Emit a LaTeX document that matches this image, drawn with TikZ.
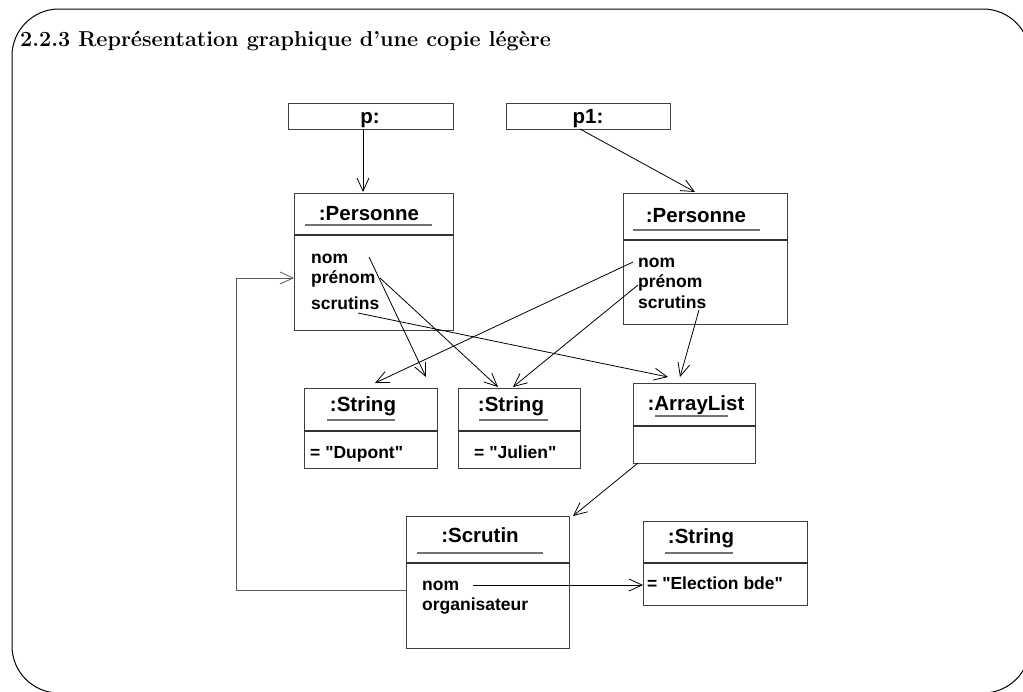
\documentclass[tikz,border=0pt]{standalone}
\usepackage{fontspec}
\newfontfamily\hv{Liberation Sans}
\usetikzlibrary{arrows.meta}
\begin{document}
\begin{tikzpicture}[x=1pt,y=-1pt,
  box/.style={draw=black!75, line width=1.1pt, rectangle, inner sep=0pt, anchor=north west},
  divider/.style={draw=black!80, line width=1.1pt},
  uline/.style={draw=black!55, line width=1.2pt},
  ttl/.style={font=\hv\bfseries\fontsize{20.5}{22}\selectfont, inner sep=0pt, anchor=base},
  attr/.style={font=\hv\bfseries\fontsize{17.5}{19}\selectfont, inner sep=0pt, anchor=base west},
  conn/.style={draw=black, line width=0.8pt, -{Straight Barb[length=13pt,width=12pt,line width=0.8pt]}},
  frame/.style={draw=black, line width=1pt, rounded corners=47pt}
]
\useasboundingbox (0,0) rectangle (1023,691);
% frame
\draw[frame] (12,9) rectangle (1030,693);
% title
\node[font=\bfseries\fontsize{21.6}{25}\selectfont, inner sep=0pt, anchor=base west] (title) at (20,46)
  {2.2.3 Représentation graphique d’une copie légère};

% variable boxes
\node[box, minimum width=165pt, minimum height=26pt] (pbox) at (288,103) {};
\node[ttl] (ptxt) at (370,123) {p:};
\node[box, minimum width=164pt, minimum height=26pt] (p1box) at (506,103) {};
\node[ttl] (p1txt) at (588,123) {p1:};

% Personne 1
\node[box, minimum width=159pt, minimum height=137pt] (pers1) at (294,193) {};
\draw[divider] (pers1.west |- 0,235) -- (pers1.east |- 0,235);
\node[ttl] (pers1t) at (369,220) {:Personne};
\draw[uline] (305,225) -- (432,225);
\node[attr] (pers1nom) at (311,263) {nom};
\node[attr] (pers1pre) at (311,283) {prénom};
\node[attr] (pers1scr) at (311,309) {scrutins};

% Personne 2
\node[box, minimum width=164pt, minimum height=131pt] (pers2) at (623,193) {};
\draw[divider] (pers2.west |- 0,240) -- (pers2.east |- 0,240);
\node[ttl] (pers2t) at (696,222) {:Personne};
\draw[uline] (633,230) -- (760,230);
\node[attr] (pers2nom) at (638,267) {nom};
\node[attr] (pers2pre) at (638,287) {prénom};
\node[attr] (pers2scr) at (638,308) {scrutins};

% String 1
\node[box, minimum width=133pt, minimum height=80pt] (str1) at (304,388) {};
\draw[divider] (str1.west |- 0,431) -- (str1.east |- 0,431);
\node[ttl] (str1t) at (363,411) {:String};
\draw[uline] (327,420) -- (395,420);
\node[attr] (str1v) at (310,458) {= "Dupont"};

% String 2
\node[box, minimum width=122pt, minimum height=80pt] (str2) at (458,388) {};
\draw[divider] (str2.west |- 0,431) -- (str2.east |- 0,431);
\node[ttl] (str2t) at (511,411) {:String};
\draw[uline] (479,420) -- (548,420);
\node[attr] (str2v) at (474,458) {= "Julien"};

% ArrayList
\node[box, minimum width=122pt, minimum height=80pt] (arr) at (633,383) {};
\draw[divider] (arr.west |- 0,426) -- (arr.east |- 0,426);
\node[ttl] (arrt) at (696,410) {:ArrayList};
\draw[uline] (655,416) -- (728,416);

% Scrutin
\node[box, minimum width=163pt, minimum height=132pt] (scr) at (406,516) {};
\draw[divider] (scr.west |- 0,563) -- (scr.east |- 0,563);
\node[ttl] (scrt) at (480,542) {:Scrutin};
\draw[uline] (417,553) -- (543,553);
\node[attr] (scrnom) at (422,590) {nom};
\node[attr] (scrorg) at (422,610) {organisateur};

% String 3
\node[box, minimum width=164pt, minimum height=84pt] (str3) at (643,521) {};
\draw[divider] (str3.west |- 0,563) -- (str3.east |- 0,563);
\node[ttl] (str3t) at (701,543) {:String};
\draw[uline] (665,553) -- (733,553);
\node[attr] (str3v) at (647,589) {= "Election bde"};

% connector end points
\coordinate (pA) at (363,129);   \coordinate (pB) at (363,192);
\coordinate (p1A) at (580,129);  \coordinate (p1B) at (695,192);
\coordinate (n1A) at (369,257);  \coordinate (n1B) at (426,377);
\coordinate (r1A) at (380,278);  \coordinate (r1B) at (498,387);
\coordinate (s1A) at (358,313);  \coordinate (s1B) at (668,377);
\coordinate (n2A) at (633,262);  \coordinate (n2B) at (375,383);
\coordinate (r2A) at (638,285);  \coordinate (r2B) at (513,387);
\coordinate (s2A) at (699,310);  \coordinate (s2B) at (680,377);
\coordinate (aA) at (638,463);   \coordinate (aB) at (573,516);
\coordinate (sn) at (473,585);   \coordinate (snB) at (643,585);
\coordinate (bk1) at (236,590);  \coordinate (bk2) at (236,278);
\coordinate (bkB) at (294,278);

\draw[conn] (pA) -- (pB);
\draw[conn] (p1A) -- (p1B);
\draw[conn] (n1A) -- (n1B);
\draw[conn] (r1A) -- (r1B);
\draw[conn] (s1A) -- (s1B);
\draw[conn] (n2A) -- (n2B);
\draw[conn] (r2A) -- (r2B);
\draw[conn] (s2A) -- (s2B);
\draw[conn] (aA) -- (aB);
\draw[conn] (sn) -- (snB);
\draw[conn, draw=black!65, line width=1pt] (scr.west |- bk1) -- (bk1) -- (bk2) -- (bkB);
\end{tikzpicture}
\end{document}
